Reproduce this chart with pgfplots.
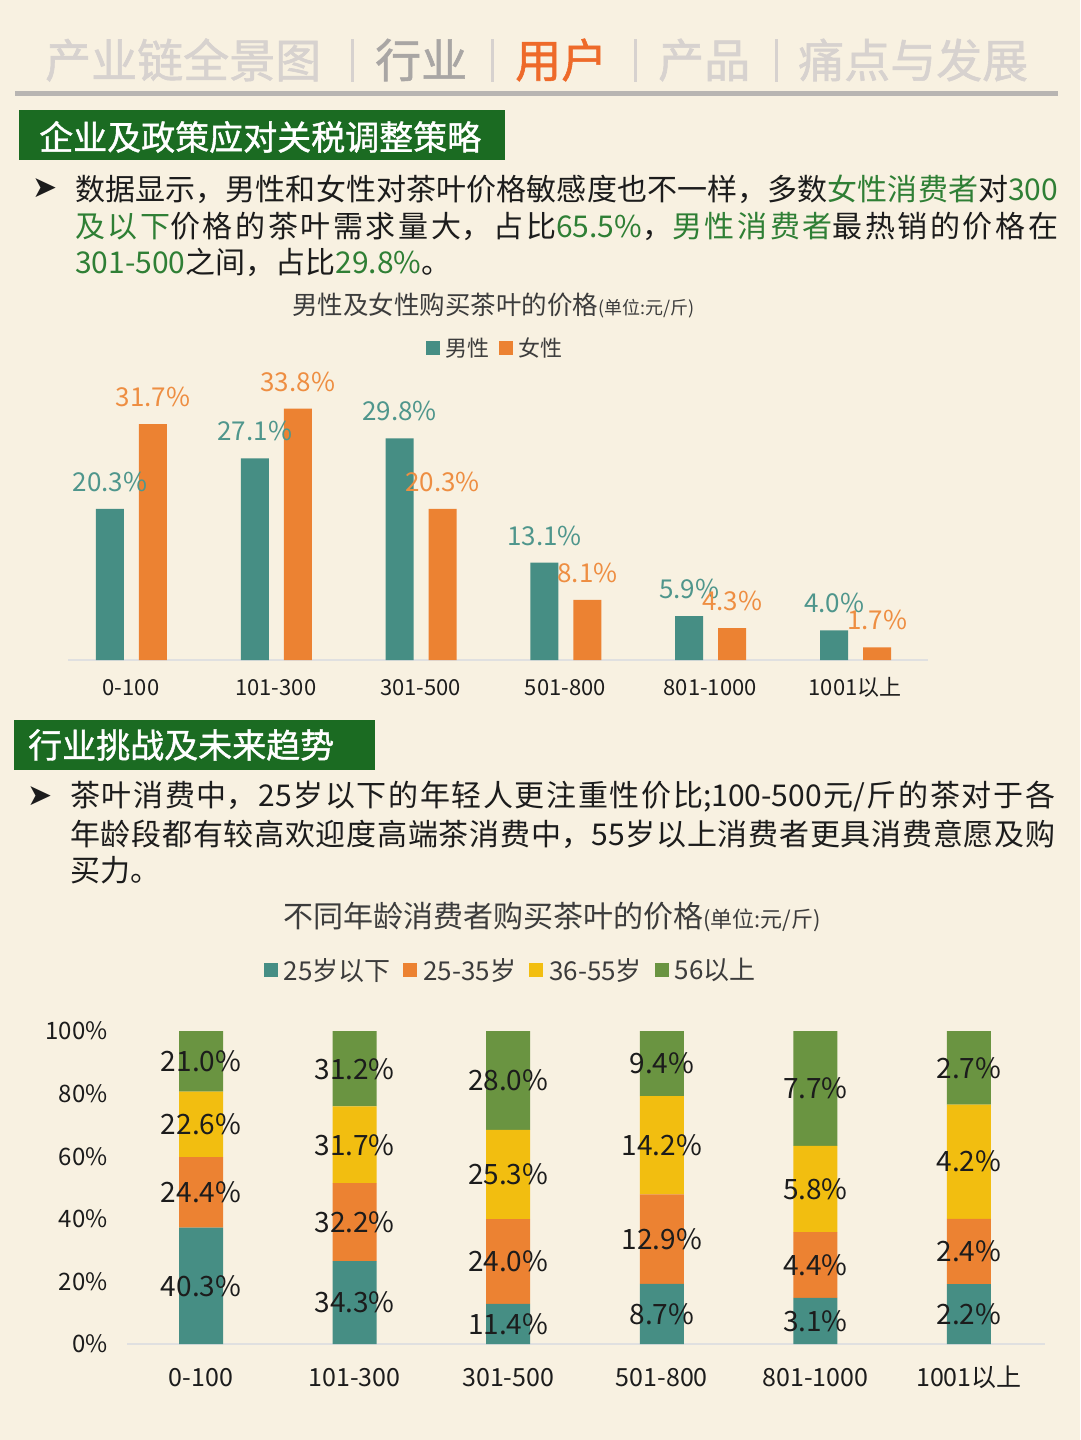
\documentclass[border=0pt]{standalone}
\usepackage{pgfplots}
\pgfplotsset{compat=1.18}
\usepackage{pgfplotstable}
\usepackage{fontspec}
\setmainfont{Noto Sans CJK SC}
\newfontfamily\boxfont[FakeBold=1.2]{Noto Sans CJK SC}
\newfontfamily\symfont{DejaVu Sans}
\XeTeXlinebreaklocale "zh"
\XeTeXlinebreakskip=0pt plus 5pt

\definecolor{bg}{HTML}{F8F1E1}
\definecolor{cteal}{HTML}{468E84}
\definecolor{corange}{HTML}{EC8232}
\definecolor{cyellow}{HTML}{F2BE10}
\definecolor{cgreen}{HTML}{6A9441}
\definecolor{boxgreen}{HTML}{1B6B22}
\definecolor{tgreen}{HTML}{2F7F35}
\definecolor{hdrlight}{HTML}{D7D2CF}
\definecolor{hdrmid}{HTML}{A9A6A4}
\definecolor{hdrorange}{HTML}{EE6A2A}
\definecolor{hdrline}{HTML}{B8B5B2}
\definecolor{txt}{HTML}{1C1C1C}
\definecolor{ttl}{HTML}{3C3C3C}
\definecolor{lteal}{HTML}{4F968C}
\definecolor{lorange}{HTML}{EE8E42}

\newcommand{\fs}[1]{\fontsize{#1}{#1}\selectfont}
\newcommand{\g}[1]{\textcolor{tgreen}{#1}}

\pgfplotstableread{
x male female
0 20.3 31.7
1 27.1 33.8
2 29.8 20.3
3 13.1 8.1
4 5.9 4.3
5 4.0 1.7
}\gender

% a..d: share of column (normalised to 100), an..dn: printed values
\pgfplotstableread{
x a an b bn c cn d dn
0 37.211 40.3 22.530 24.4 20.868 22.6 19.391 21.0
1 26.507 34.3 24.884 32.2 24.498 31.7 24.111 31.2
2 12.852 11.4 27.057 24.0 28.523 25.3 31.567 28.0
3 19.248 8.7 28.540 12.9 31.416 14.2 20.796 9.4
4 14.762 3.1 20.952 4.4 27.619 5.8 36.667 7.7
5 19.130 2.2 20.870 2.4 36.522 4.2 23.478 2.7
}\age

\begin{document}
\begin{tikzpicture}
\fill[bg] (0pt,0pt) rectangle (1080pt,-1440pt);
\begin{scope}[x=1pt,y=-1pt]
  % header
  \node[anchor=west,inner sep=0pt,font=\boxfont\fs{46},text=hdrlight] at (45,60) {产业链全景图};
  \node[anchor=west,inner sep=0pt,font=\boxfont\fs{46},text=hdrmid] at (375,60) {行业};
  \node[anchor=west,inner sep=0pt,font=\boxfont\fs{46},text=hdrorange] at (515,60) {用户};
  \node[anchor=west,inner sep=0pt,font=\boxfont\fs{46},text=hdrlight] at (658,60) {产品};
  \node[anchor=west,inner sep=0pt,font=\boxfont\fs{46},text=hdrlight] at (798,60) {痛点与发展};
  \foreach \xx in {352,492,635,776} \draw[hdrlight,line width=3pt] (\xx,39) -- (\xx,82);
  \draw[hdrline,line width=5pt] (15,93) -- (1058,93);
  % box 1
  \fill[boxgreen] (19,110) rectangle (505,160);
  \node[anchor=west,inner sep=0pt,font=\boxfont\fs{34},text=white] at (39,137) {企业及政策应对关税调整策略};
  \node[inner sep=0pt,font=\symfont\fs{30},text=txt] at (45,188) {➤};
  \node[anchor=west,inner sep=0pt,text width=983pt,align=justify,font=\fs{30},text=txt] at (75,189)
    {\parfillskip=0pt 数据显示，男性和女性对茶叶价格敏感度也不一样，多数\g{女性消费者}对\g{300}\par};
  \node[anchor=west,inner sep=0pt,text width=983pt,align=justify,font=\fs{30},text=txt] at (75,226)
    {\parfillskip=0pt \g{及以下}价格的茶叶需求量大，占比\g{65.5\%}，\g{男性消费者}最热销的价格在\par};
  \node[anchor=west,inner sep=0pt,font=\fs{30},text=txt] at (75,262) {\g{301-500}之间，占比\g{29.8\%}。};
  % chart 1 title
  \node[anchor=base west,inner sep=0pt,text=ttl] at (292,314) {{\fs{25.5}男性及女性购买茶叶的价格}{\fs{18}(单位:元/斤)}};
  % box 2
  \fill[boxgreen] (14,720) rectangle (375,770);
  \node[anchor=west,inner sep=0pt,font=\boxfont\fs{34},text=white] at (28,745) {行业挑战及未来趋势};
  \node[inner sep=0pt,font=\symfont\fs{30},text=txt] at (40,796) {➤};
  \node[anchor=west,inner sep=0pt,text width=985pt,align=justify,font=\fs{30},text=txt] at (70,797)
    {\parfillskip=0pt 茶叶消费中，25岁以下的年轻人更注重性价比;100-500元/斤的茶对于各\par};
  \node[anchor=west,inner sep=0pt,text width=985pt,align=justify,font=\fs{30},text=txt] at (70,834)
    {\parfillskip=0pt 年龄段都有较高欢迎度高端茶消费中，55岁以上消费者更具消费意愿及购\par};
  \node[anchor=west,inner sep=0pt,font=\fs{30},text=txt] at (70,870) {买力。};
  % chart 2 title
  \node[anchor=base west,inner sep=0pt,text=ttl] at (283,927) {{\fs{30}不同年龄消费者购买茶叶的价格}{\fs{22}(单位:元/斤)}};
\end{scope}

% ---------- chart 1 ----------
\begin{axis}[
  at={(68pt,-660pt)}, anchor=south west, scale only axis,
  width=860pt, height=260pt,
  xmin=-0.435, xmax=5.504, ymin=0, ymax=34.95,
  ybar, bar width=28pt,
  axis x line*=bottom, axis y line*=left,
  x axis line style={draw=black!12, line width=1.2pt, -},
  y axis line style={draw=none},
  ytick=\empty,
  xtick={0,...,5},
  xticklabels={0-100,101-300,301-500,501-800,801-1000,1001以上},
  major tick length=0pt,
  xticklabel style={font=\fs{22}, text=txt, text height=0.8em, text depth=0.2em, yshift=-24pt},
  clip=false,
  /pgf/number format/assume math mode=true,
  nodes near coords={\pgfmathprintnumber[fixed,fixed zerofill,precision=1]{\pgfplotspointmeta}\%},
  every node near coord/.append style={anchor=center, yshift=27pt, font=\fs{26}},
  legend style={at={(0.4965,1.2)}, anchor=center, draw=none, fill=none, legend columns=-1,
    font=\fs{22}, text=ttl, /tikz/every even column/.append style={column sep=8pt},
    /tikz/every odd column/.append style={column sep=3pt}},
  legend image code/.code={\fill[#1] (0pt,-7pt) rectangle (14pt,7pt);},
]
\addplot[fill=cteal, draw=none, bar shift=-21pt, every node near coord/.append style={text=lteal}] table[x=x,y=male]{\gender};
\addplot[fill=corange, draw=none, bar shift=22pt, every node near coord/.append style={text=lorange}] table[x=x,y=female]{\gender};
\legend{男性,女性}
\end{axis}

% ---------- chart 2 ----------
\begin{axis}[
  at={(127pt,-1344pt)}, anchor=south west, scale only axis,
  width=918pt, height=313pt,
  xmin=-0.482, xmax=5.495, ymin=0, ymax=100,
  ybar stacked, bar width=44pt,
  axis x line*=bottom, axis y line*=left,
  x axis line style={draw=black!12, line width=1.2pt, -},
  y axis line style={draw=none},
  ytick={0,20,...,100},
  yticklabel={\pgfmathprintnumber{\tick}\%},
  yticklabel style={font=\fs{24}, text=txt, anchor=east, xshift=-16pt},
  xtick={0,...,5},
  xticklabels={0-100,101-300,301-500,501-800,801-1000,1001以上},
  major tick length=0pt,
  xticklabel style={font=\fs{25}, text=txt, text height=0.8em, text depth=0.2em, yshift=-31pt},
  clip=false,
  /pgf/number format/assume math mode=true,
  point meta=explicit,
  nodes near coords={\pgfmathprintnumber[fixed,fixed zerofill,precision=1]{\pgfplotspointmeta}\%},
  every node near coord/.append style={anchor=center, font=\fs{28}, text=txt},
  legend style={at={(0.418,1.195)}, anchor=center, draw=none, fill=none, legend columns=-1,
    font=\fs{26}, text=ttl, /tikz/every even column/.append style={column sep=11pt},
    /tikz/every odd column/.append style={column sep=4pt}},
  legend image code/.code={\fill[#1] (0pt,-7pt) rectangle (14pt,7pt);},
]
\addplot[fill=cteal, draw=none] table[x=x,y=a,meta=an]{\age};
\addplot[fill=corange, draw=none] table[x=x,y=b,meta=bn]{\age};
\addplot[fill=cyellow, draw=none] table[x=x,y=c,meta=cn]{\age};
\addplot[fill=cgreen, draw=none] table[x=x,y=d,meta=dn]{\age};
\legend{25岁以下,25-35岁,36-55岁,56以上}
\end{axis}

\pgfresetboundingbox
\path (0pt,0pt) rectangle (1080pt,-1440pt);
\end{tikzpicture}
\end{document}
